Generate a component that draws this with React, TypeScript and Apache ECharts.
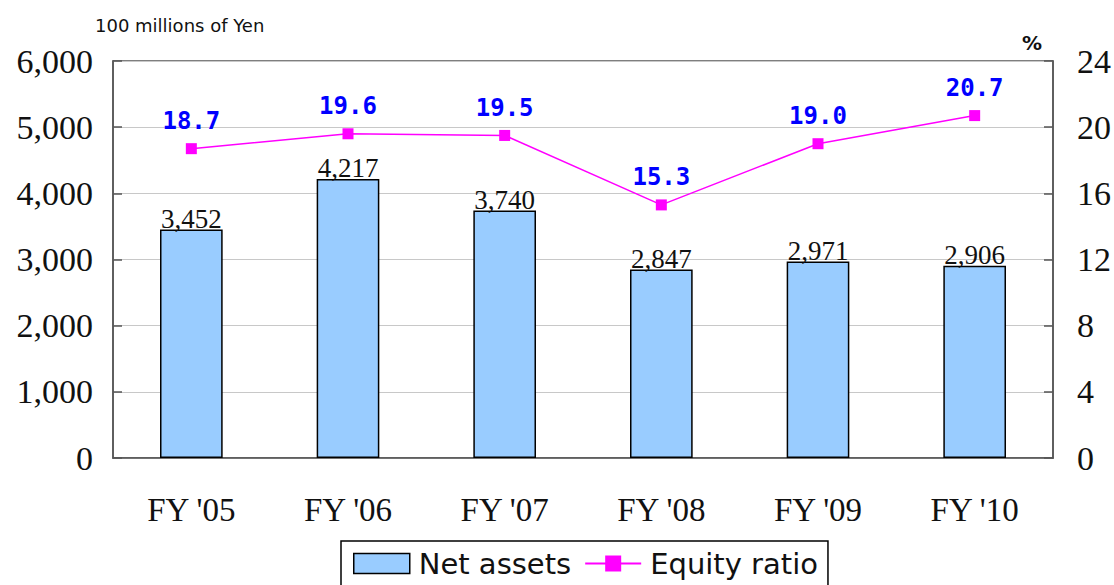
import React, { useEffect, useRef } from "react";
import * as echarts from "echarts";

const categories = ["FY '05", "FY '06", "FY '07", "FY '08", "FY '09", "FY '10"];
const netAssets = [3452, 4217, 3740, 2847, 2971, 2906];
const equityRatio = [18.7, 19.6, 19.5, 15.3, 19.0, 20.7];
const leftTicks = { min: 0, max: 6000, interval: 1000 };
const rightTicks = { min: 0, max: 24, interval: 4 };

const SERIF = "'Liberation Serif', 'Times New Roman', serif";
const SANS = "'DejaVu Sans', 'Noto Sans', sans-serif";

export default function App() {
  const ref = useRef<HTMLDivElement>(null);
  useEffect(() => {
    if (!ref.current) return;
    const chart = echarts.init(ref.current, null, { renderer: "svg" });
    chart.setOption({
      animation: false,
      backgroundColor: "#ffffff",
      grid: { left: 113, right: 61, top: 61, bottom: 127, show: true, borderColor: "#555", borderWidth: 1.5, backgroundColor: "transparent" },
      graphic: [
        { type: "text", left: 95, top: 16, style: { text: "100 millions of Yen", font: `18px ${SANS}`, fill: "#111" } },
        { type: "text", left: 1022, top: 33, style: { text: "%", font: `bold 20px ${SANS}`, fill: "#111" } },
      ],
      legend: {
        left: 341,
        top: 541,
        padding: [8, 10, 14, 12],
        borderColor: "#000",
        borderWidth: 1.5,
        itemGap: 13,
        itemWidth: 56,
        itemHeight: 20,
        textStyle: { fontFamily: SANS, fontSize: 29, color: "#111", padding: [0, 0, 0, 4] },
        data: [
          { name: "Net assets", icon: "rect", itemStyle: { borderColor: "#000", borderWidth: 1.5 } },
          { name: "Equity ratio" },
        ],
      },
      xAxis: {
        type: "category",
        data: categories,
        axisLine: { lineStyle: { color: "#555", width: 1.5 } },
        axisTick: { show: false },
        axisLabel: { fontFamily: SERIF, fontSize: 33, color: "#111", margin: 35 },
      },
      yAxis: [
        {
          type: "value",
          ...leftTicks,
          axisLine: { show: true, lineStyle: { color: "#555", width: 1.5 } },
          axisTick: { show: true, inside: true, length: 9, lineStyle: { color: "#555", width: 1.5 } },
          splitLine: { lineStyle: { color: "#c8c8c8", width: 1 } },
          axisLabel: { fontFamily: SERIF, fontSize: 34, color: "#111", margin: 20, formatter: (v: number) => v.toLocaleString("en-US") },
        },
        {
          type: "value",
          ...rightTicks,
          position: "right",
          axisLine: { show: true, lineStyle: { color: "#555", width: 1.5 } },
          axisTick: { show: true, inside: true, length: 9, lineStyle: { color: "#555", width: 1.5 } },
          splitLine: { show: false },
          axisLabel: { fontFamily: SERIF, fontSize: 34, color: "#111", margin: 24 },
        },
      ],
      series: [
        {
          name: "Net assets",
          type: "bar",
          data: netAssets,
          barWidth: "40%",
          itemStyle: { color: "#99ccff", borderColor: "#000", borderWidth: 1.5 },
          label: {
            show: true,
            position: "top",
            distance: -3,
            fontFamily: SERIF,
            fontSize: 27,
            color: "#111",
            formatter: (p: any) => Number(p.value).toLocaleString("en-US"),
          },
        },
        {
          name: "Equity ratio",
          type: "line",
          yAxisIndex: 1,
          data: equityRatio,
          symbol: "rect",
          symbolSize: 11,
          lineStyle: { color: "#ff00ff", width: 1.5 },
          itemStyle: { color: "#ff00ff" },
          label: {
            show: true,
            position: "top",
            distance: 10,
            fontFamily: "'DejaVu Sans Mono', monospace",
            fontWeight: "bold",
            fontSize: 24,
            color: "#0000ff",
            formatter: (p: any) => Number(p.value).toFixed(1),
          },
        },
      ],
    });
    return () => chart.dispose();
  }, []);
  return <div ref={ref} style={{ width: 1114, height: 585, position: "absolute", left: 0, top: 0 }} />;
}
